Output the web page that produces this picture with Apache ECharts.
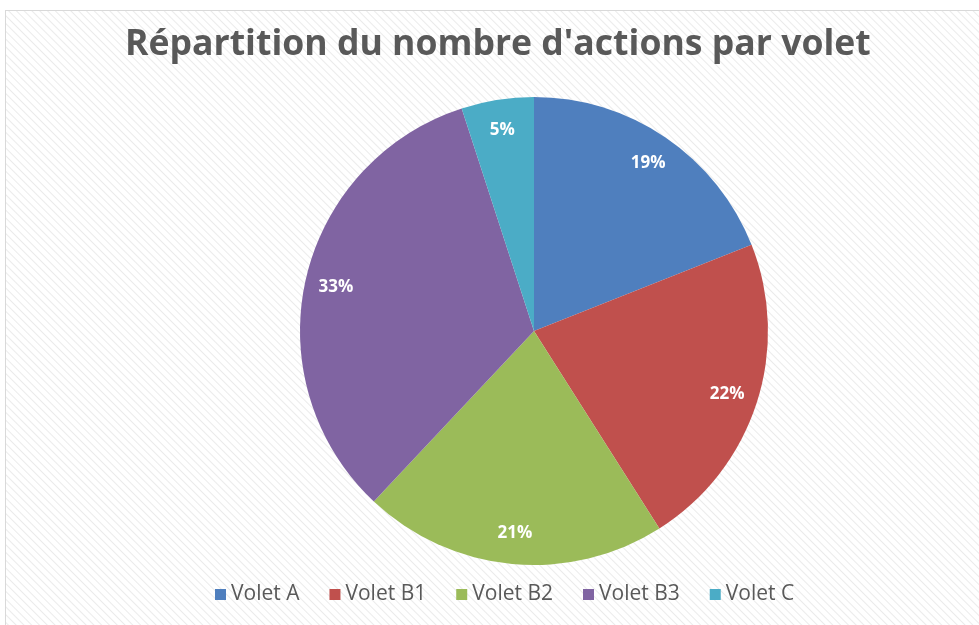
<!DOCTYPE html>
<html>
<head>
<meta charset="utf-8">
<script src="https://cdn.jsdelivr.net/npm/echarts@6/dist/echarts.min.js"></script>
<style>
  html, body { margin: 0; padding: 0; background: #ffffff; }
  #frame {
    position: absolute; left: 5px; top: 10px; width: 990px; height: 640px;
    border: 1.5px solid #d9d9d9;
    background: repeating-linear-gradient(45deg, #ffffff 0px, #ffffff 2.5px, #ebebeb 3.5px, #ffffff 4.5px, #ffffff 5.5px);
  }
  #chart { position: absolute; left: 0; top: 0; width: 979px; height: 625px; }
</style>
</head>
<body>
<div id="frame"></div>
<div id="chart"></div>
<script>
const titleText = "Répartition du nombre d'actions par volet";
const categories = ["Volet A", "Volet B1", "Volet B2", "Volet B3", "Volet C"];
const values = [19, 22, 21, 33, 5];
const colors = ["#4F7FBE", "#C0504D", "#9BBB59", "#8064A2", "#4BACC6"];

const data = categories.map((c, i) => ({ name: c, value: values[i], itemStyle: { color: colors[i] } }));
const labelData = categories.map((c, i) => ({ name: c, value: values[i], itemStyle: { color: 'rgba(0,0,0,0)' } }));

const chart = echarts.init(document.getElementById('chart'), null, { renderer: 'canvas' });
chart.setOption({
  backgroundColor: 'transparent',
  animation: false,
  title: {
    text: titleText,
    left: 125,
    top: 27,
    padding: 0,
    textStyle: { fontFamily: 'Open Sans', fontWeight: 'bold', fontSize: 35.6, color: '#595959' }
  },
  legend: {
    data: categories,
    left: 215,
    top: 584,
    padding: 0,
    icon: 'rect',
    itemWidth: 11,
    itemHeight: 11,
    itemGap: 30,
    selectedMode: false,
    textStyle: { fontFamily: 'Open Sans', fontSize: 21, color: '#595959' }
  },
  series: [
    {
      type: 'pie',
      center: [534, 331],
      radius: [0, 234],
      startAngle: 90,
      clockwise: true,
      silent: true,
      label: { show: false },
      labelLine: { show: false },
      data: data
    },
    {
      type: 'pie',
      center: [534, 331],
      radius: [166, 234],
      startAngle: 90,
      clockwise: true,
      silent: true,
      label: {
        show: true,
        position: 'inside',
        formatter: '{d}%',
        fontFamily: 'Open Sans',
        fontWeight: 'bold',
        fontSize: 17,
        color: '#ffffff'
      },
      labelLine: { show: false },
      data: labelData
    }
  ]
});
</script>
</body>
</html>
